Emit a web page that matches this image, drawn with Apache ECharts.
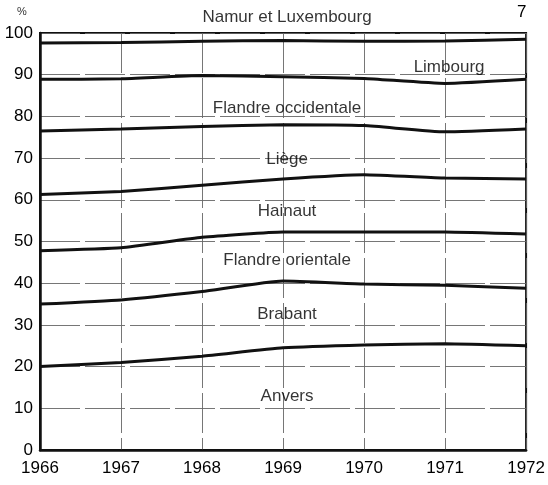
<!DOCTYPE html>
<html>
<head>
<meta charset="utf-8">
<script src="https://cdn.jsdelivr.net/npm/echarts@6/dist/echarts.min.js"></script>
<style>
html,body{margin:0;padding:0;background:#fff;}
#chart{width:548px;height:485px;}
</style>
</head>
<body>
<div id="chart"></div>
<script>
// Years (x axis categories)
var years = ['1966', '1967', '1968', '1969', '1970', '1971', '1972'];
// Y axis ticks
var yTicks = [0, 10, 20, 30, 40, 50, 60, 70, 80, 90, 100];

// Cumulative boundary lines (%), from bottom to top
var anversTop        = [20.0, 21.0, 22.5, 24.5, 25.2, 25.5, 25.0];
var brabantTop       = [35.0, 36.0, 38.0, 40.5, 39.8, 39.5, 38.8];
var flandreOrTop     = [47.8, 48.5, 51.0, 52.3, 52.3, 52.3, 51.8];
var hainautTop       = [61.3, 62.0, 63.5, 65.0, 66.0, 65.2, 65.0];
var liegeTop         = [76.5, 77.0, 77.6, 78.0, 77.8, 76.3, 77.0];
var flandreOccTop    = [88.9, 89.0, 89.8, 89.5, 89.1, 87.9, 88.9];
var limbourgTop      = [97.6, 97.7, 98.0, 98.2, 98.0, 98.1, 98.5];

// Band names and their label anchors (year, value)
var bandNames  = ['Anvers', 'Brabant', 'Flandre orientale', 'Hainaut', 'Liège', 'Flandre occidentale', 'Limbourg', 'Namur et Luxembourg'];
var labelYears = ['1969', '1969', '1969', '1969', '1969', '1969', '1971', '1969'];
var labelVals  = [12.8, 32.6, 45.6, 57.2, 69.6, 82.0, 91.8, 103.8];

var boundaries = [anversTop, brabantTop, flandreOrTop, hainautTop, liegeTop, flandreOccTop, limbourgTop];

var FONT = '"Liberation Sans", Arial, Helvetica, sans-serif';

var series = boundaries.map(function (arr) {
  return {
    type: 'line',
    data: arr,
    symbol: 'none',
    smooth: 0.15,
    lineStyle: { color: '#111', width: 3 },
    silent: true,
    z: 3
  };
});

series.push({
  type: 'scatter',
  symbolSize: 0,
  clip: false,
  silent: true,
  z: 5,
  data: bandNames.map(function (n, i) {
    return { name: n, value: [labelYears[i], labelVals[i]] };
  }),
  label: {
    show: true,
    position: 'inside',
    offset: [4, 0],
    formatter: function (p) { return p.name; },
    color: '#000',
    textBorderWidth: 0,
    fontFamily: FONT,
    fontSize: 17
  }
});

var gridLine = { color: '#666', width: 0.9, type: [40, 5] };

var chart = echarts.init(document.getElementById('chart'), null, { renderer: 'canvas' });
chart.setOption({
  animation: false,
  backgroundColor: '#fff',
  grid: {
    left: 40, right: 18, top: 33, bottom: 35,
    show: true, borderColor: '#111', borderWidth: 2, backgroundColor: 'transparent'
  },
  xAxis: {
    type: 'category',
    data: years,
    boundaryGap: false,
    axisLine: { show: true, lineStyle: { color: '#111', width: 2.5 } },
    axisTick: { show: false },
    axisLabel: { color: '#000', fontFamily: FONT, fontSize: 17, margin: 10 },
    splitLine: { show: true, lineStyle: gridLine }
  },
  yAxis: {
    type: 'value',
    min: yTicks[0],
    max: yTicks[yTicks.length - 1],
    interval: 10,
    axisLine: { show: true, lineStyle: { color: '#111', width: 2.5 } },
    axisTick: { show: false },
    axisLabel: { color: '#000', fontFamily: FONT, fontSize: 17, margin: 7 },
    splitLine: { show: true, lineStyle: gridLine }
  },
  graphic: [
    { type: 'text', left: 17, top: 6, style: { text: '%', fill: '#333', font: '11px ' + FONT } },
    { type: 'text', left: 517, top: 4, style: { text: '7', fill: '#000', font: '17px ' + FONT } }
  ],
  series: series
});
</script>
</body>
</html>
